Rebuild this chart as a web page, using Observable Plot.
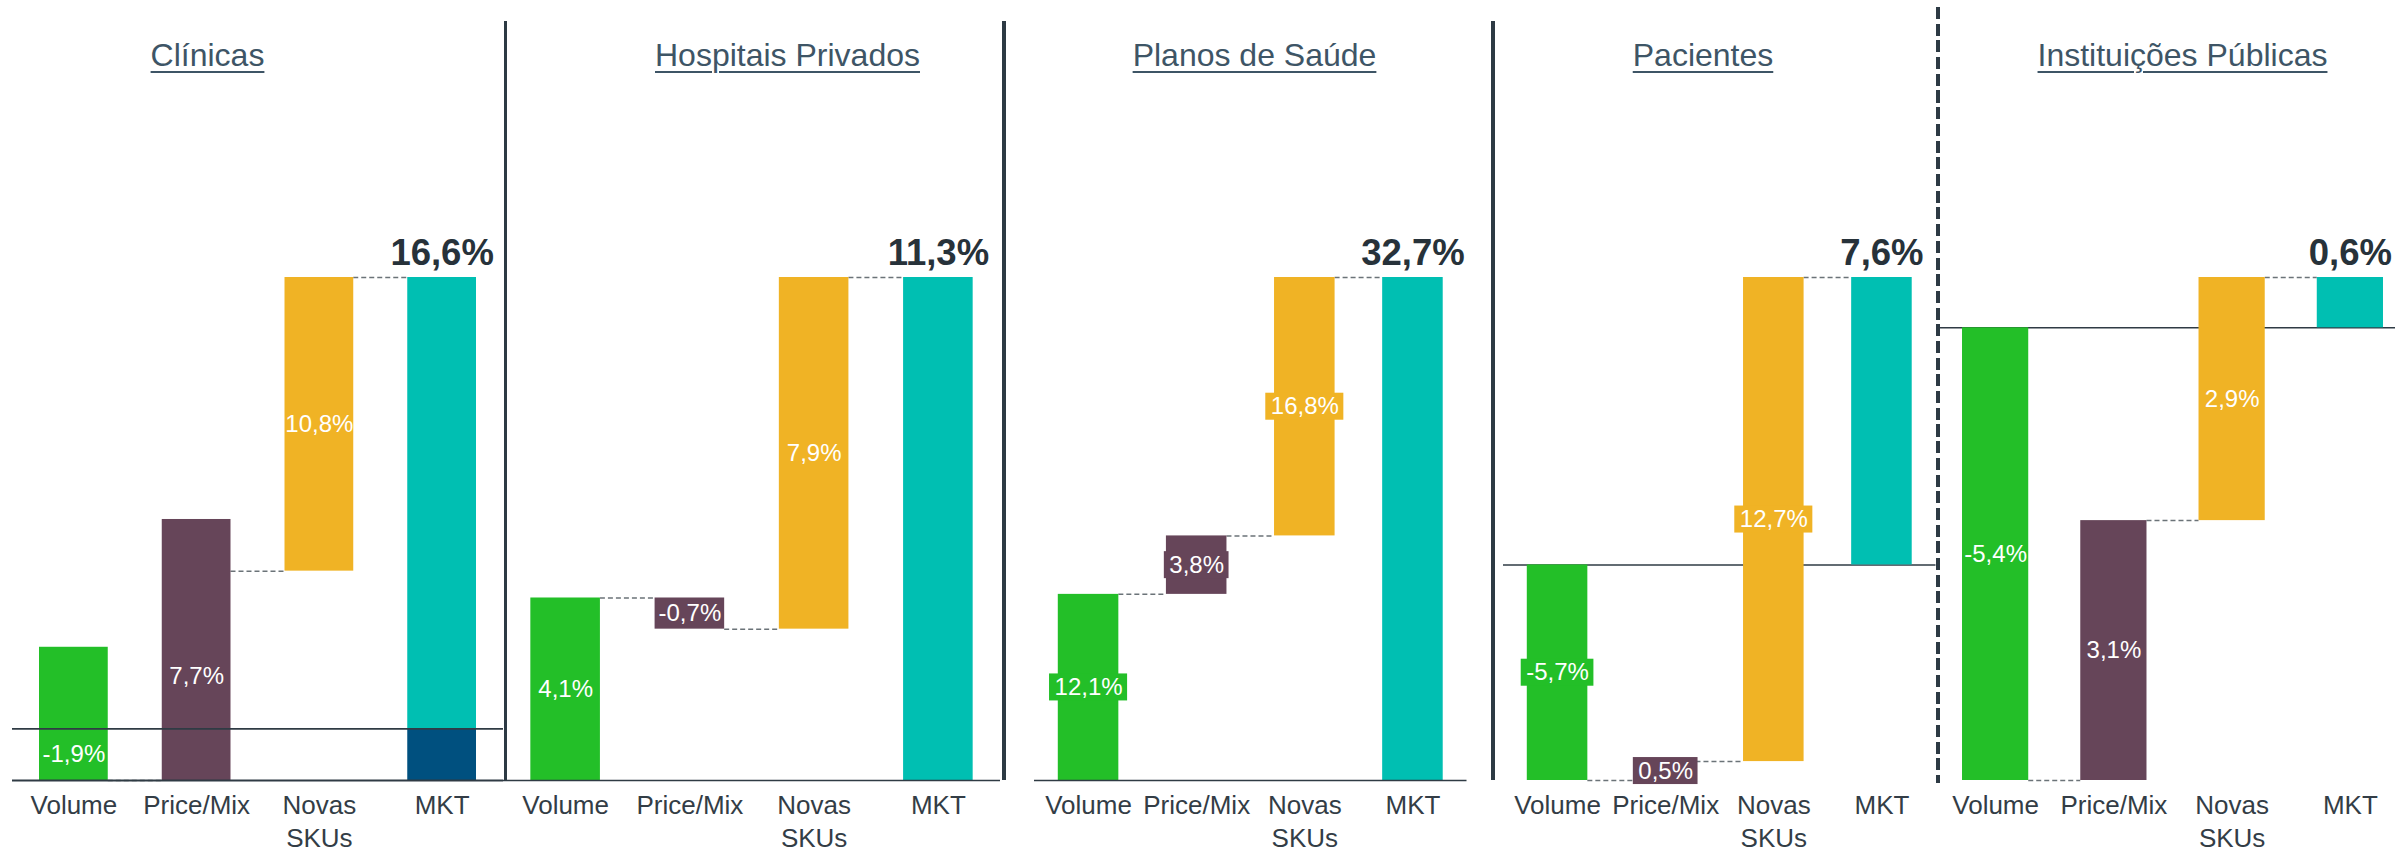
<!DOCTYPE html>
<html><head><meta charset="utf-8">
<script src="https://cdn.jsdelivr.net/npm/d3@7"></script>
<script src="https://cdn.jsdelivr.net/npm/@observablehq/plot@0.6"></script>
<style>
html,body{margin:0;padding:0;background:#fff;overflow:hidden;}
#chart{position:relative;width:2395px;height:852px;overflow:hidden;font-family:"Liberation Sans",Arial,sans-serif;}
.panel{position:absolute;top:0;}
.title{position:absolute;top:39px;transform:translateX(-50%);font-size:32px;line-height:32px;color:#3E5566;text-decoration:underline;text-decoration-thickness:2px;text-underline-offset:5px;white-space:nowrap;}
.sep{position:absolute;}
</style></head><body><div id="chart"></div>
<script>
// ---- data ----
const panels = ["Clínicas", "Hospitais Privados", "Planos de Saúde", "Pacientes", "Instituições Públicas"];
const categories = ["Volume", "Price/Mix", "Novas\nSKUs", "MKT"];
const volume    = [-1.9, 4.1, 12.1, -5.7, -5.4];
const priceMix  = [7.7, -0.7, 3.8, 0.5, 3.1];
const novasSkus = [10.8, 7.9, 16.8, 12.7, 2.9];
const mkt       = [16.6, 11.3, 32.7, 7.6, 0.6];
// as drawn in "Clínicas": tops of the Volume and Price/Mix bars
const clinicasDrawnTops = [3.0, 7.7];
// bottom of the MKT bar (Clínicas reaches below zero)
const mktBase = [-1.9, 0, 0, 0, 0];

// ---- styles & layout ----
const barColors = ["#23BF28", "#664559", "#F0B325", "#00BFB2"];
const mktNegColor = "#00507F";
const fontFamily = '"Liberation Sans", Arial, sans-serif';
const layout = [
  {left: 11.5, width: 491,   titleX: 207.5,  boxes: false, rulesOnTop: true,  bottomRule: true},
  {left: 503,  width: 497,   titleX: 787.5,  boxes: false, rulesOnTop: true,  bottomRule: false},
  {left: 1034, width: 432.5, titleX: 1254.5, boxes: true,  rulesOnTop: true,  bottomRule: false},
  {left: 1502.5, width: 432.5, titleX: 1703, boxes: true,  rulesOnTop: false, bottomRule: false},
  {left: 1936, width: 473,   titleX: 2182.5, boxes: false, rulesOnTop: false, bottomRule: false}
];
const separators = [
  {x: 505.5, top: 21, bottom: 780, dashed: false},
  {x: 1004,  top: 21, bottom: 780, dashed: false},
  {x: 1493,  top: 21, bottom: 780, dashed: false},
  {x: 1938,  top: 7,  bottom: 783, dashed: true}
];
const H = 852, MT = 277, MB = 72;
const barHalf = 0.28;
const labelSize = 24;

const loc = d3.formatLocale({decimal: ",", thousands: ".", grouping: [3], currency: ["", ""], minus: "-"});
const f1 = loc.format(".1f");
const fmt = v => f1(v) + "%";

const canvas = document.createElement("canvas");
const ctx = canvas.getContext("2d");
ctx.font = `${labelSize}px ${fontFamily}`;

const chart = document.getElementById("chart");

panels.forEach((name, p) => {
  const L = layout[p];
  const total = mkt[p];
  const c1 = volume[p], c2 = c1 + priceMix[p];
  const segs = [
    {i: 0, start: 0,  end: c1,    v: volume[p]},
    {i: 1, start: c1, end: c2,    v: priceMix[p]},
    {i: 2, start: c2, end: total, v: novasSkus[p]}
  ].map(s => ({...s, label: fmt(s.v), mid: (s.start + s.end) / 2, color: barColors[s.i],
               y1: Math.min(s.start, s.end), y2: Math.max(s.start, s.end)}));
  if (p === 0) segs.forEach((s, k) => { if (k < 2) s.y2 = clinicasDrawnTops[k]; });

  const lo = Math.min(0, c1, c2, mktBase[p]), hi = total;
  const step = L.width / 4;
  const k = (H - MT - MB) / (hi - lo);

  const mktBars = [{i: 3, y1: 0, y2: total, color: barColors[3]}];
  if (mktBase[p] < 0) mktBars.push({i: 3, y1: mktBase[p], y2: 0, color: mktNegColor});

  const connectors = [
    {i: 0, y: c1}, {i: 1, y: c2}, {i: 2, y: total}
  ];

  const boxes = L.boxes ? segs.map(s => {
    const w = ctx.measureText(s.label).width + 10;
    return {x1: s.i - w / 2 / step, x2: s.i + w / 2 / step, y1: s.mid - 13.5 / k, y2: s.mid + 13.5 / k, color: s.color};
  }) : [];

  const rules = [Plot.ruleY([0], {stroke: "#2F3B44", strokeWidth: 1.6})];
  if (L.bottomRule) rules.push(Plot.ruleY([lo], {stroke: "#2F3B44", strokeWidth: 2}));

  const marks = [
    ...(L.rulesOnTop ? [] : rules),
    Plot.ruleY(connectors, {y: "y", x1: d => d.i + barHalf, x2: d => d.i + 1 - barHalf,
      stroke: "#6B7378", strokeWidth: 1.5, strokeDasharray: "5,3"}),
    Plot.rect(segs, {x1: d => d.i - barHalf, x2: d => d.i + barHalf, y1: "y1", y2: "y2", fill: "color"}),
    Plot.rect(mktBars, {x1: d => d.i - barHalf, x2: d => d.i + barHalf, y1: "y1", y2: "y2", fill: "color"}),
    ...(L.rulesOnTop ? rules : []),
    Plot.rect(boxes, {x1: "x1", x2: "x2", y1: "y1", y2: "y2", fill: "color"}),
    Plot.text(segs, {x: "i", y: "mid", text: "label", fill: "white", fontSize: labelSize}),
    Plot.text([{i: 3, v: total}], {x: "i", y: "v", text: d => fmt(d.v), dy: -24,
      fontSize: 36.5, fontWeight: "bold", fill: "#27323A"}),
    Plot.text(categories, {x: (d, i) => i, frameAnchor: "bottom", lineAnchor: "top", dy: 9.4,
      lineHeight: 1.28, fontSize: 26, fill: "#333D46", text: d => d})
  ];

  const svg = Plot.plot({
    width: L.width, height: H, marginTop: MT, marginBottom: MB, marginLeft: 0, marginRight: 0,
    x: {type: "linear", domain: [-0.5, 3.5], axis: null},
    y: {type: "linear", domain: [lo, hi], axis: null},
    style: {overflow: "visible", fontFamily, background: "transparent"},
    marks
  });
  svg.classList.add("panel");
  svg.style.left = L.left + "px";
  chart.appendChild(svg);

  const t = document.createElement("div");
  t.className = "title";
  t.textContent = name;
  t.style.left = L.titleX + "px";
  chart.appendChild(t);
});

separators.forEach(s => {
  const d = document.createElement("div");
  d.className = "sep";
  const w = s.dashed ? 4.3 : 3.5;
  d.style.left = (s.x - w / 2) + "px";
  d.style.width = w + "px";
  d.style.top = s.top + "px";
  d.style.height = (s.bottom - s.top) + "px";
  d.style.background = s.dashed
    ? "repeating-linear-gradient(to bottom, #2D3A44 0px, #2D3A44 12px, transparent 12px, transparent 16.7px)"
    : "#2D3A44";
  chart.appendChild(d);
});
</script></body></html>
